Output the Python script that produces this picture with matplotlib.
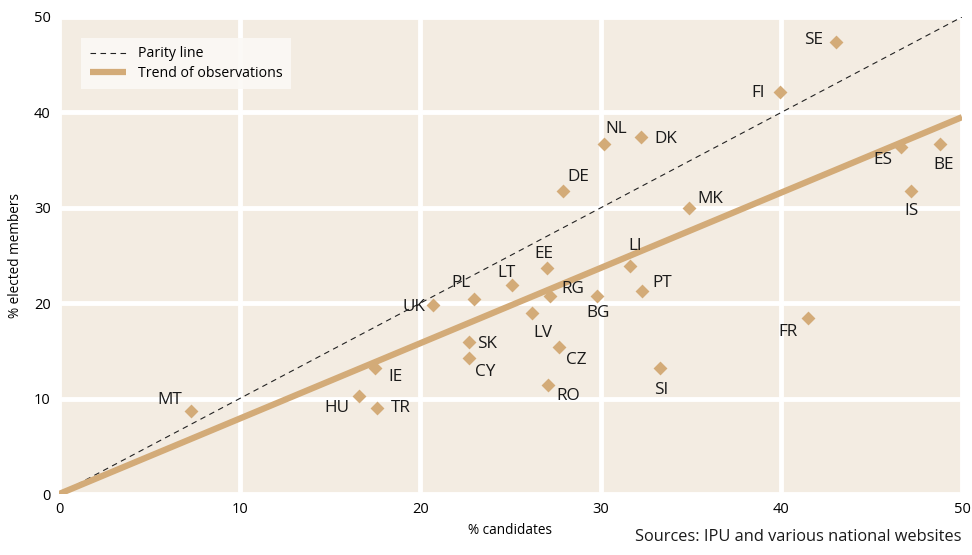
import matplotlib
matplotlib.use("Agg")
import matplotlib.pyplot as plt
import numpy as np

plt.rcParams['font.family'] = ['Open Sans', 'DejaVu Sans']

countries = ["SE", "FI", "NL", "DK", "DE", "MK", "ES", "BE", "IS", "EE", "LI", "LT",
             "PL", "RG", "BG", "PT", "UK", "LV", "SK", "CZ", "CY", "IE", "SI", "FR",
             "RO", "MT", "HU", "TR"]
candidates = [43.0, 39.9, 30.2, 32.2, 27.9, 34.9, 46.6, 48.8, 47.2, 27.0, 31.6, 25.1,
              23.0, 27.2, 29.8, 32.3, 20.7, 26.2, 22.7, 27.7, 22.7, 17.5, 33.3, 41.5,
              27.1, 7.3, 16.6, 17.6]
elected = [47.4, 42.1, 36.7, 37.4, 31.8, 30.0, 36.4, 36.7, 31.8, 23.7, 23.9, 21.9,
           20.4, 20.8, 20.8, 21.3, 19.8, 19.0, 15.9, 15.4, 14.3, 13.2, 13.2, 18.4,
           11.4, 8.7, 10.3, 9.0]
trend_slope = 0.79
x_ticks = [0, 10, 20, 30, 40, 50]
y_ticks = [0, 10, 20, 30, 40, 50]

# label offsets in pixels (dx, dy up positive)
offsets = {
    "SE": (-22, 2), "FI": (-21, -1), "NL": (12, 15), "DK": (25, -2), "DE": (15, 14),
    "MK": (21, 9), "ES": (-18, -13), "BE": (3, -21), "IS": (0, -20), "EE": (-3, 14),
    "LI": (5, 20), "LT": (-6, 12), "PL": (-13, 16), "RG": (23, 7), "BG": (1, -17),
    "PT": (20, 8), "UK": (-19, -2), "LV": (11, -20), "SK": (18, -2), "CZ": (17, -13),
    "CY": (16, -14), "IE": (20, -9), "SI": (1, -22), "FR": (-20, -14), "RO": (20, -11),
    "MT": (-21, 11), "HU": (-22, -12), "TR": (24, 0),
}

bg = "#f3ece2"
tan = "#d3ab78"

fig = plt.figure(figsize=(9.72, 5.55), dpi=100)
ax = fig.add_axes([0.0607, 0.1099, 0.9290, 0.8595])
ax.set_facecolor(bg)
ax.set_xlim(0, 50)
ax.set_ylim(0, 50)
ax.set_xticks(x_ticks)
ax.set_yticks(y_ticks)
ax.grid(True, color="white", linewidth=3.5)
ax.set_axisbelow(True)
for s in ax.spines.values():
    s.set_visible(False)
ax.tick_params(length=0, labelsize=10.5, pad=6)

xs = np.array([0, 50])
ax.plot(xs, xs, linestyle=(0, (5, 4)), color="#222222", linewidth=0.8, label="Parity line", zorder=3)
ax.plot(xs, trend_slope * xs, color=tan, linewidth=4.5, label="Trend of observations",
        solid_capstyle="butt", zorder=3)
ax.scatter(candidates, elected, marker="D", s=50, color=tan, zorder=4, linewidths=0)

for c, x, y in zip(countries, candidates, elected):
    dx, dy = offsets[c]
    ax.annotate(c, (x, y), xytext=(dx, dy), textcoords="offset pixels",
                ha="center", va="center", fontsize=12.3, color="#1a1a1a", zorder=5)

ax.set_xlabel("% candidates", fontsize=9.8, labelpad=4)
ax.set_ylabel("% elected members", fontsize=9.8, labelpad=8)

leg = ax.legend(loc="upper left", bbox_to_anchor=(0.0244, 0.956), borderaxespad=0,
                fontsize=10.2, frameon=True, fancybox=False, handlelength=2.6,
                borderpad=0.6, labelspacing=0.3)
leg.get_frame().set_facecolor("#fbf9f5")
leg.get_frame().set_edgecolor("none")
leg.get_frame().set_alpha(0.9)

fig.text(0.9897, 0.018, "Sources: IPU and various national websites", ha="right",
         va="bottom", fontsize=11.8, color="#1a1a1a")

fig.savefig("out.png", dpi=100, facecolor="white")
